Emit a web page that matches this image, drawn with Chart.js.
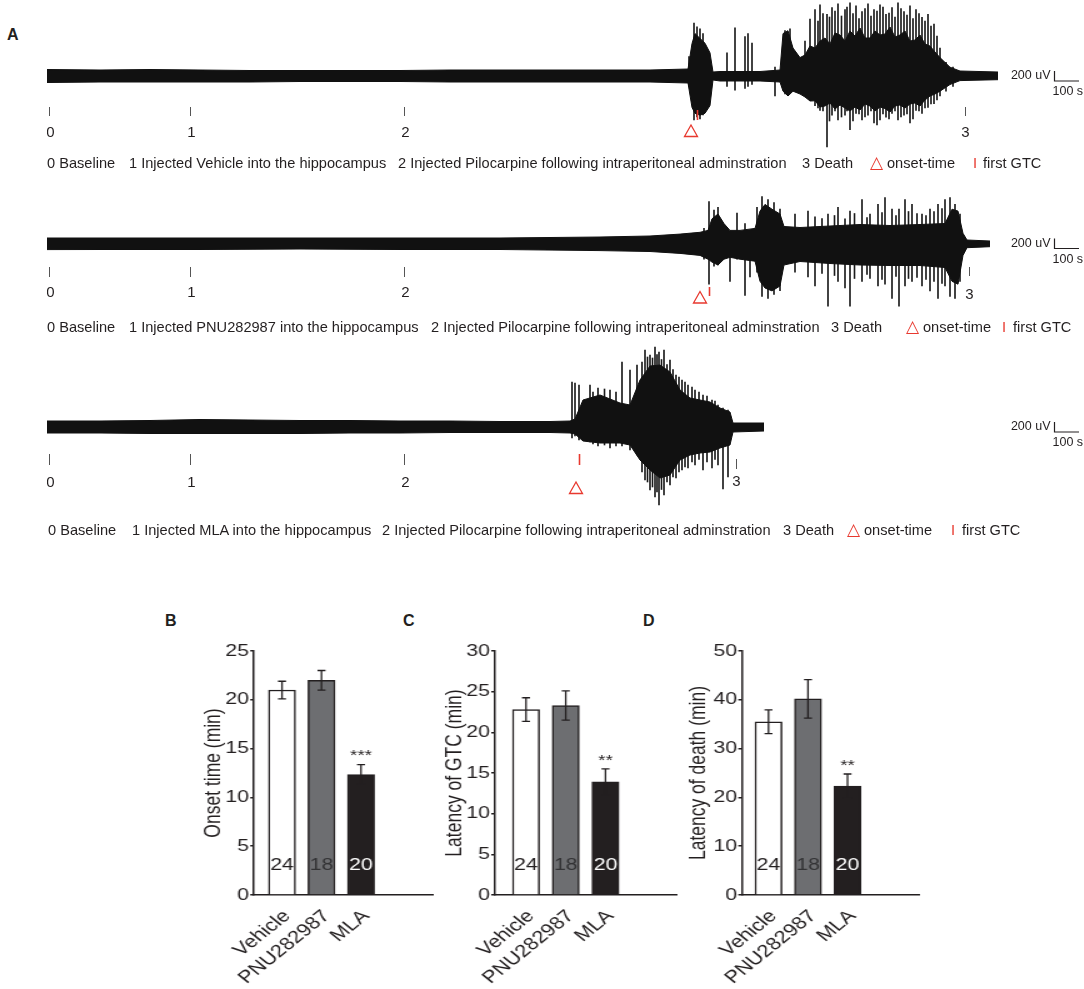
<!DOCTYPE html>
<html>
<head>
<meta charset="utf-8">
<script src="https://cdn.jsdelivr.net/npm/chart.js@4.4.1/dist/chart.umd.min.js"></script>
<style>
html, body { margin: 0; padding: 0; background: #fff; }
body { width: 1084px; height: 989px; position: relative; overflow: hidden; font-family: "Liberation Sans", Arial, sans-serif; color: #231f20; }
canvas { position: absolute; }
.lg { position: absolute; font-size: 14.6px; line-height: 18px; white-space: pre; }
.red { color: #e8392f; }
.tri { font-family: "DejaVu Sans", sans-serif; font-size: 17px; line-height: 18px; }
.panel { position: absolute; font-weight: bold; font-size: 16px; line-height: 18px; }
.stretch { position: absolute; transform: scaleX(1.25); transform-origin: 0 0; }
.stretch canvas { position: static; }
</style>
</head>
<body>

<div class="panel" style="left:7px;top:26px">A</div>
<div class="panel" style="left:165px;top:612px">B</div>
<div class="panel" style="left:403px;top:612px">C</div>
<div class="panel" style="left:643px;top:612px">D</div>

<canvas id="trace1" width="1037" height="160" style="left:47px;top:0px"></canvas>
<canvas id="trace2" width="1037" height="160" style="left:47px;top:180px"></canvas>
<canvas id="trace3" width="1037" height="200" style="left:47px;top:330px"></canvas>

<!-- legend rows -->
<div class="lg" style="left:47px;top:154px">0 Baseline</div>
<div class="lg" style="left:129px;top:154px">1 Injected Vehicle into the hippocampus</div>
<div class="lg" style="left:398px;top:154px">2 Injected Pilocarpine following intraperitoneal adminstration</div>
<div class="lg" style="left:802px;top:154px">3 Death</div>
<div class="lg red tri" style="left:870px;top:153px">△</div>
<div class="lg" style="left:887px;top:154px">onset-time</div>
<div class="lg red" style="left:973px;top:154px">I</div>
<div class="lg" style="left:983px;top:154px">first GTC</div>

<div class="lg" style="left:47px;top:318px">0 Baseline</div>
<div class="lg" style="left:129px;top:318px">1 Injected PNU282987 into the hippocampus</div>
<div class="lg" style="left:431px;top:318px">2 Injected Pilocarpine following intraperitoneal adminstration</div>
<div class="lg" style="left:831px;top:318px">3 Death</div>
<div class="lg red tri" style="left:906px;top:317px">△</div>
<div class="lg" style="left:923px;top:318px">onset-time</div>
<div class="lg red" style="left:1002px;top:318px">I</div>
<div class="lg" style="left:1013px;top:318px">first GTC</div>

<div class="lg" style="left:48px;top:521px">0 Baseline</div>
<div class="lg" style="left:132px;top:521px">1 Injected MLA into the hippocampus</div>
<div class="lg" style="left:382px;top:521px">2 Injected Pilocarpine following intraperitoneal adminstration</div>
<div class="lg" style="left:783px;top:521px">3 Death</div>
<div class="lg red tri" style="left:847px;top:520px">△</div>
<div class="lg" style="left:864px;top:521px">onset-time</div>
<div class="lg red" style="left:951px;top:521px">I</div>
<div class="lg" style="left:962px;top:521px">first GTC</div>

<div class="stretch" style="left:150px;top:600px"><canvas id="chartB" width="240" height="389"></canvas></div>
<div class="stretch" style="left:390px;top:600px"><canvas id="chartC" width="240" height="389"></canvas></div>
<div class="stretch" style="left:640px;top:600px"><canvas id="chartD" width="240" height="389"></canvas></div>

<script>
// ---- Panel A: EEG envelopes (time in s, amplitude in uV) ----
const trace1Time  = [0, 212, 412, 612, 812, 1012, 1212, 1412, 1612, 1812, 2012, 2212, 2412, 2564, 2580, 2592, 2612, 2632, 2652, 2664, 2692, 2772, 2852, 2932, 2944, 2964, 2984,
	3012, 3032, 3052, 3072, 3092, 3112, 3132, 3152, 3172, 3192, 3212, 3232, 3252, 3272, 3292, 3312, 3332, 3352, 3372, 3392, 3412, 3432, 3452, 3472, 3492, 3512, 3532, 3552, 3572,
	3612, 3652, 3804];
const trace1Upper = [130, 120, 130, 120, 110, 110, 110, 110, 120, 120, 120, 120, 120, 140, 650, 848, 752, 656, 464, 80, 90, 90, 90, 120, 848, 906, 560,
	368, 420, 600, 560, 700, 760, 640, 860, 820, 700, 900, 800, 960, 760, 760, 900, 820, 840, 980, 780, 820, 900, 700, 720, 820, 640, 600, 480, 368,
	176, 100, 80];
const trace1Lower = [-130, -120, -120, -120, -120, -110, -110, -110, -120, -120, -120, -120, -120, -140, -630, -746, -784, -746, -592, -80, -100, -100, -100, -120, -304, -400, -304,
	-360, -420, -500, -496, -620, -600, -540, -660, -580, -640, -700, -620, -680, -560, -600, -700, -620, -650, -720, -600, -580, -640, -560, -540, -600, -480, -400, -360, -304,
	-170, -92, -74];
const trace1SpikeTime = [2568, 2588, 2600, 2612, 2624, 2720, 2752, 2792, 2804, 2820, 2912, 2952, 2972, 3032, 3052, 3072, 3084, 3092, 3104, 3120, 3130, 3140, 3152, 3164, 3178, 3192, 3200, 3212, 3224, 3236, 3248, 3260, 3272, 3284, 3296, 3308, 3320, 3332, 3344, 3356, 3368, 3380, 3392, 3404, 3416, 3428, 3440, 3452, 3464, 3476, 3488, 3500, 3512, 3524, 3536, 3548, 3560, 3572, 3596, 3624];
const trace1SpikeHigh = [388, 1060, 982, 944, 848, 464, 964, 790, 848, 656, 176, 906, 944, 700, 1136, 1328, 1100, 1424, 1250, 1232, 1180, 1366, 1300, 1444, 1200, 1328, 1380, 1462, 1250, 1404, 1150, 1290, 1350, 1444, 1200, 1328, 1300, 1424, 1380, 1232, 1260, 1366, 1180, 1462, 1350, 1290, 1220, 1404, 1150, 1328, 1250, 1174, 1100, 1232, 1000, 1040, 800, 560, 272, 176];
const trace1SpikeLow  = [-208, -880, -820, -860, -780, -208, -284, -246, -208, -170, -400, -360, -304, -380, -400, -592, -640, -688, -700, -1418, -900, -784, -700, -880, -820, -784, -700, -1072, -900, -746, -760, -880, -820, -784, -700, -938, -980, -880, -760, -822, -860, -746, -700, -880, -820, -784, -760, -938, -860, -688, -700, -746, -640, -630, -560, -554, -480, -400, -304, -208];

const trace2Time  = [0, 212, 612, 1012, 1412, 1812, 2212, 2412, 2532, 2612, 2644, 2660, 2684, 2708, 2732, 2772, 2832, 2852, 2872, 2900, 2932, 2948, 3012, 3132, 3252, 3372, 3492, 3592, 3620, 3644, 3664, 3680, 3772];
const trace2Upper = [110, 110, 110, 110, 110, 110, 130, 150, 188, 224, 262, 494, 590, 398, 262, 262, 302, 648, 782, 686, 590, 340, 320, 350, 380, 360, 380, 400, 686, 648, 204, 70, 50];
const trace2Lower = [-122, -120, -120, -110, -120, -120, -142, -160, -198, -238, -314, -372, -430, -314, -276, -314, -354, -756, -890, -948, -850, -430, -360, -400, -430, -440, -440, -480, -756, -814, -238, -84, -64];
const trace2SpikeTime = [2628, 2648, 2668, 2684, 2732, 2760, 2792, 2812, 2840, 2860, 2884, 2908, 2932, 2992, 3044, 3072, 3100, 3124, 3150, 3164, 3192, 3212, 3230, 3260, 3280, 3292, 3324, 3340, 3352, 3380, 3396, 3408, 3432, 3446, 3460, 3480, 3500, 3516, 3532, 3548, 3564, 3580, 3592, 3612, 3632, 3652];
const trace2SpikeHigh = [302, 840, 666, 724, 110, 610, 398, 262, 724, 936, 878, 820, 686, 590, 648, 532, 500, 590, 560, 724, 494, 648, 600, 878, 520, 590, 782, 620, 916, 686, 560, 686, 878, 640, 782, 600, 590, 560, 686, 640, 782, 700, 878, 916, 782, 590];
const trace2SpikeLow  = [-314, -814, -452, -430, -756, -314, -1038, -668, -572, -1058, -1096, -1018, -942, -572, -668, -850, -600, -1254, -640, -756, -890, -1254, -700, -756, -620, -696, -850, -720, -814, -1096, -660, -1254, -850, -700, -756, -680, -850, -720, -948, -760, -1096, -800, -850, -1058, -1096, -756];

const trace3Time  = [0, 212, 412, 612, 812, 1012, 1212, 1412, 1612, 1812, 2012, 2092, 2112, 2144, 2212, 2292, 2332, 2372, 2412, 2452, 2492, 2532, 2572, 2612, 2652, 2692, 2732, 2744, 2868];
const trace3Upper = [120, 120, 130, 150, 140, 130, 130, 120, 120, 110, 110, 120, 160, 540, 640, 480, 440, 940, 1220, 1240, 1100, 740, 580, 540, 500, 380, 300, 80, 80];
const trace3Lower = [-120, -120, -130, -130, -130, -130, -120, -120, -110, -110, -110, -120, -140, -280, -320, -320, -360, -660, -860, -1020, -960, -660, -560, -520, -500, -420, -360, -100, -80];
const trace3SpikeTime = [2100, 2112, 2128, 2172, 2184, 2204, 2230, 2252, 2276, 2300, 2332, 2360, 2380, 2392, 2402, 2412, 2422, 2432, 2440, 2448, 2458, 2468, 2480, 2492, 2504, 2516, 2528, 2540, 2552, 2564, 2580, 2592, 2608, 2624, 2640, 2660, 2672, 2684, 2704, 2724];
const trace3SpikeHigh = [900, 880, 840, 840, 700, 780, 760, 740, 700, 1300, 1140, 1240, 1300, 1540, 1400, 1440, 1380, 1600, 1450, 1500, 1350, 1540, 1250, 1340, 1150, 1040, 1000, 940, 900, 840, 800, 740, 700, 640, 620, 540, 520, 440, 380, 340];
const trace3SpikeLow  = [-220, -180, -260, -300, -340, -380, -360, -420, -380, -380, -460, -560, -900, -1060, -1100, -1260, -1200, -1400, -1300, -1560, -1250, -1360, -1100, -1160, -1000, -1020, -900, -860, -800, -820, -700, -760, -650, -860, -700, -820, -650, -760, -1240, -1000];

// event times (s): 0 baseline, 1 intrahippocampal injection, 2 pilocarpine
const eventTimes  = [8, 572, 1428];
const eventLabels = ['0', '1', '2'];
const deathLabel  = '3';
const deathTimes  = [3672, 3688, 2756];
const onsetTimes  = [2576, 2612, 2116];
const gtcTimes    = [2600, 2648, 2128];

// ---- Panels B-D ----
const groups    = ['Vehicle', 'PNU282987', 'MLA'];
const groupN    = ['24', '18', '20'];
const onsetMean = [21.0, 22.0, 12.35];
const onsetSem  = [0.9, 1.0, 1.0];
const onsetSig  = ['', '', '***'];
const gtcMean   = [22.8, 23.3, 13.9];
const gtcSem    = [1.45, 1.8, 1.6];
const gtcSig    = ['', '', '**'];
const deathMean = [35.5, 40.2, 22.3];
const deathSem  = [2.45, 3.95, 2.5];
const deathSig  = ['', '', '**'];

const ink = '#231f20';
const red = '#e8392f';
const barFill = ['#ffffff', '#6d6e71', '#231f20'];
const nColor = ['#231f20', '#333335', '#ffffff'];
const fontFamily = '"Liberation Sans", Arial, sans-serif';

Chart.defaults.font.family = fontFamily;
Chart.defaults.color = ink;

const eegMarks = {
	id: 'eegMarks',
	afterDraw(chart, args, o) {
		const { ctx, scales: { x, y } } = chart;
		const px = (t) => Math.round(x.getPixelForValue(t)) + 0.5;
		ctx.save();
		ctx.font = '15px ' + fontFamily;
		ctx.textAlign = 'center';
		ctx.textBaseline = 'middle';
		ctx.lineWidth = 1;
		ctx.strokeStyle = '#555';
		ctx.fillStyle = ink;
		eventTimes.forEach((t, i) => {
			ctx.beginPath();
			ctx.moveTo(px(t), o.tickY[0]);
			ctx.lineTo(px(t), o.tickY[1]);
			ctx.stroke();
			ctx.fillText(eventLabels[i], px(t) + 1, o.labelY);
		});
		// death
		ctx.beginPath();
		ctx.moveTo(px(o.death), o.deathTickY[0]);
		ctx.lineTo(px(o.death), o.deathTickY[1]);
		ctx.stroke();
		ctx.fillText(deathLabel, px(o.death), o.deathLabelY);
		// first GTC
		ctx.strokeStyle = red;
		ctx.lineWidth = 1.6;
		ctx.beginPath();
		ctx.moveTo(px(o.gtc), o.gtcY[0]);
		ctx.lineTo(px(o.gtc), o.gtcY[1]);
		ctx.stroke();
		// onset triangle
		const cx = x.getPixelForValue(o.onset), cy = o.onsetY;
		ctx.lineWidth = 1.3;
		ctx.beginPath();
		ctx.moveTo(cx, cy - 6);
		ctx.lineTo(cx + 6.5, cy + 5.5);
		ctx.lineTo(cx - 6.5, cy + 5.5);
		ctx.closePath();
		ctx.stroke();
		// scale bar 200 uV / 100 s
		const x0 = px(o.barT), x1 = x.getPixelForValue(o.barT + 100);
		const yb = y.getPixelForValue(-100), yt = y.getPixelForValue(100);
		ctx.strokeStyle = ink;
		ctx.lineWidth = 1.2;
		ctx.beginPath();
		ctx.moveTo(x0, yt);
		ctx.lineTo(x0, yb);
		ctx.lineTo(x1, yb);
		ctx.stroke();
		ctx.font = '12.5px ' + fontFamily;
		ctx.textAlign = 'right';
		ctx.fillText('200 uV', x0 - 4, y.getPixelForValue(0));
		ctx.textAlign = 'left';
		ctx.fillText('100 s', x0 - 2, yb + 11);
		ctx.restore();
	}
};

function traceChart(id, time, upper, lower, sTime, sHigh, sLow, yMin, yMax, marks) {
	return new Chart(document.getElementById(id), {
		type: 'line',
		data: {
			datasets: [
				{
					data: time.map((t, i) => ({ x: t, y: upper[i] })),
					borderColor: '#111', backgroundColor: '#111', borderWidth: 1,
					pointRadius: 0, tension: 0, fill: '+1'
				},
				{
					data: time.map((t, i) => ({ x: t, y: lower[i] })),
					borderColor: '#111', borderWidth: 1,
					pointRadius: 0, tension: 0, fill: false
				},
				{
					type: 'bar',
					data: sTime.map((t, i) => ({ x: t, y: [sLow[i], sHigh[i]] })),
					backgroundColor: '#1c1c1c', barThickness: 1, grouped: false
				}
			]
		},
		options: {
			responsive: false,
			animation: false,
			events: [], // No hover
			layout: { padding: 0 },
			plugins: { legend: { display: false }, tooltip: { enabled: false }, eegMarks: marks },
			scales: {
				x: { type: 'linear', display: false, offset: false, min: 0, max: 4148 },
				y: { type: 'linear', display: false, min: yMin, max: yMax }
			}
		},
		plugins: [eegMarks]
	});
}

traceChart('trace1', trace1Time, trace1Upper, trace1Lower, trace1SpikeTime, trace1SpikeHigh, trace1SpikeLow, -1680, 1520, {
	tickY: [107, 116], labelY: 133, death: deathTimes[0], deathTickY: [107, 116], deathLabelY: 133,
	gtc: gtcTimes[0], gtcY: [110, 120], onset: onsetTimes[0], onsetY: 131, barT: 4028
});
traceChart('trace2', trace2Time, trace2Upper, trace2Lower, trace2SpikeTime, trace2SpikeHigh, trace2SpikeLow, -1930, 1270, {
	tickY: [87, 97], labelY: 113, death: deathTimes[1], deathTickY: [87, 96], deathLabelY: 115,
	gtc: gtcTimes[1], gtcY: [107, 116], onset: onsetTimes[1], onsetY: 117.5, barT: 4028
});
traceChart('trace3', trace3Time, trace3Upper, trace3Lower, trace3SpikeTime, trace3SpikeHigh, trace3SpikeLow, -2060, 1940, {
	tickY: [124, 135], labelY: 153, death: deathTimes[2], deathTickY: [129, 139], deathLabelY: 152,
	gtc: gtcTimes[2], gtcY: [124, 135], onset: onsetTimes[2], onsetY: 158, barT: 4028
});

// error bars, n per group, significance stars
const errorBars = {
	id: 'errorBars',
	afterDatasetsDraw(chart, args, o) {
		const { ctx, scales: { x, y } } = chart;
		ctx.save();
		ctx.strokeStyle = ink;
		ctx.lineWidth = 1.3;
		ctx.textAlign = 'center';
		ctx.textBaseline = 'middle';
		o.means.forEach((m, i) => {
			const cx = x.getPixelForValue(i + 1);
			const top = y.getPixelForValue(m + o.sems[i]);
			const bot = y.getPixelForValue(m - o.sems[i]);
			ctx.beginPath();
			ctx.moveTo(cx, top); ctx.lineTo(cx, bot);
			ctx.moveTo(cx - 3.2, top); ctx.lineTo(cx + 3.2, top);
			ctx.moveTo(cx - 3.2, bot); ctx.lineTo(cx + 3.2, bot);
			ctx.stroke();
			ctx.font = '17px ' + fontFamily;
			ctx.fillStyle = nColor[i];
			ctx.fillText(groupN[i], cx, y.getPixelForValue(0) - 30);
			if (o.sig[i]) {
				ctx.font = '15px ' + fontFamily;
				ctx.fillStyle = ink;
				ctx.fillText(o.sig[i], cx, top - 8.5);
			}
		});
		ctx.restore();
	}
};

function groupChart(id, means, sems, sig, title, yMax, yStep, xMin, xMax, padLeft, padRight, yWidth) {
	return new Chart(document.getElementById(id), {
		type: 'bar',
		data: {
			datasets: [{
				data: means.map((m, i) => ({ x: i + 1, y: m })),
				backgroundColor: barFill,
				borderColor: ink,
				borderWidth: 1.5,
				barThickness: 21.6
			}]
		},
		options: {
			responsive: false,
			animation: false,
			events: [],
			layout: { padding: { left: padLeft, right: padRight, top: 51, bottom: 0 } },
			plugins: { legend: { display: false }, tooltip: { enabled: false }, errorBars: { means, sems, sig } },
			scales: {
				x: {
					type: 'linear', min: xMin, max: xMax, offset: false,
					afterBuildTicks: (s) => { s.ticks = groups.map((g, i) => ({ value: i + 1 })); },
					afterFit: (s) => { s.height = 94; },
					grid: { display: false },
					border: { display: true, color: ink, width: 1.5 },
					ticks: {
						autoSkip: false, minRotation: 45, maxRotation: 45, padding: 3, labelOffset: 4,
						color: ink, font: { size: 17.5 },
						callback: (v) => groups[v - 1]
					}
				},
				y: {
					min: 0, max: yMax,
					afterFit: (s) => { s.width = yWidth; },
					grid: { drawOnChartArea: false, drawTicks: true, tickLength: 3, color: ink, lineWidth: 1.5 },
					border: { display: true, color: ink, width: 1.5 },
					ticks: { stepSize: yStep, padding: 1, color: ink, font: { size: 17 } },
					title: { display: true, text: title, color: ink, font: { size: 17.5 }, padding: { top: 4, bottom: 4 } }
				}
			}
		},
		plugins: [errorBars]
	});
}

groupChart('chartB', onsetMean, onsetSem, onsetSig, 'Onset time (min)', 25, 5, 0.291, 4.823, 36.5, 13.6, 46.7);
groupChart('chartC', gtcMean, gtcSem, gtcSig, 'Latency of GTC (min)', 30, 5, 0.22, 4.8, 37.3, 10.4, 46.7);
groupChart('chartD', deathMean, deathSem, deathSig, 'Latency of death (min)', 50, 10, 0.329, 4.81, 32.5, 16.8, 49.1);
</script>
</body>
</html>
